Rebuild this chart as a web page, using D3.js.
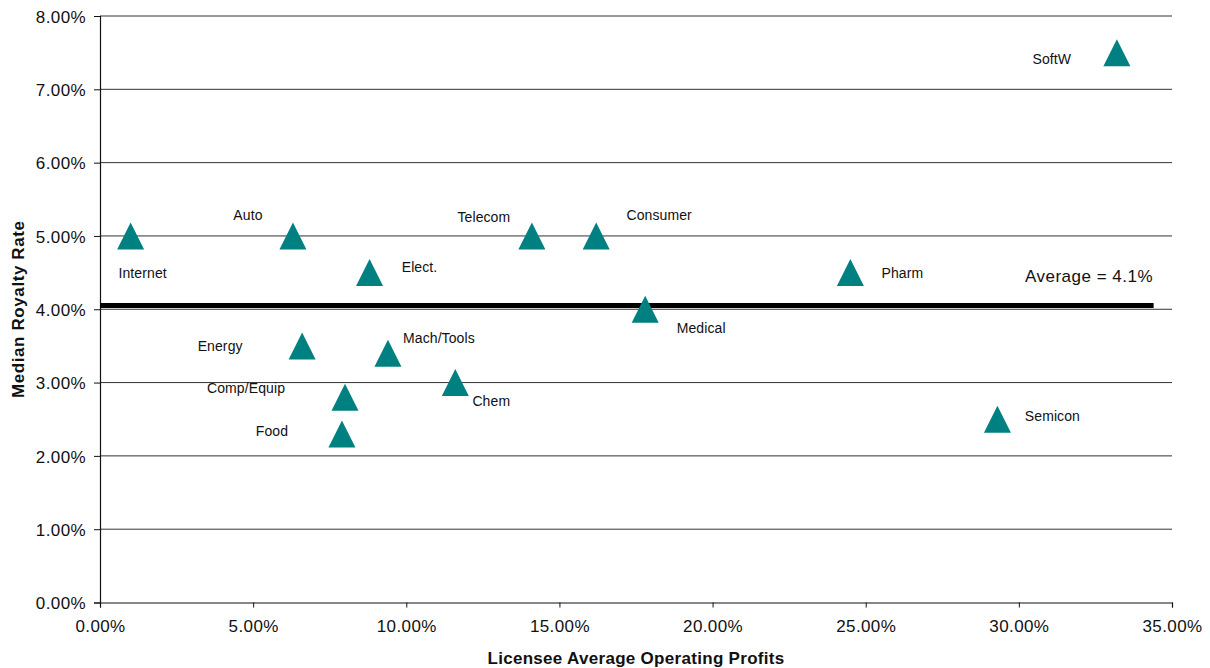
<!DOCTYPE html>
<html>
<head>
<meta charset="utf-8">
<script src="https://cdn.jsdelivr.net/npm/d3@7"></script>
<style>
  html, body { margin: 0; padding: 0; background: #fff; }
  svg text { font-family: "Liberation Sans", Arial, sans-serif; fill: #111; }
</style>
</head>
<body>
<svg id="chart" width="1210" height="668"></svg>
<script>
// Industry royalty data: operating profit (%) vs. median royalty rate (%)
const industries   = ["Internet", "Auto", "Elect.", "Telecom", "Consumer", "Medical", "Pharm", "SoftW",
                      "Energy", "Mach/Tools", "Comp/Equip", "Chem", "Food", "Semicon"];
const profits      = [1.0, 6.3, 8.8, 14.1, 16.2, 17.8, 24.5, 33.2, 6.6, 9.4, 8.0, 11.6, 7.9, 29.3];
const royaltyRates = [5.0, 5.0, 4.5, 5.0, 5.0, 4.0, 4.5, 7.5, 3.5, 3.4, 2.8, 3.0, 2.3, 2.5];

// Label placement relative to each marker (pixels)
const labelDx = [12, -45, 50, -48, 63, 56, 52, -65, -82, 51, -99, 36, -70, 55];
const labelDy = [37, -21, -6, -19, -21, 19, 0, 6, 0, -15, -9, 18, -3, -3];

const xTicks = [0, 5, 10, 15, 20, 25, 30, 35];
const yTicks = [0, 1, 2, 3, 4, 5, 6, 7, 8];

const averageRate = 4.05;
const averageLabel = "Average = 4.1%";
const averageSpan = [0, 34.4];

const svg = d3.select("#chart");
const plotLeft = 100, plotRight = 1172, plotTop = 16, plotBottom = 602.5;

const x = d3.scaleLinear().domain([0, 35]).range([plotLeft, plotRight]);
const y = d3.scaleLinear().domain([0, 8]).range([plotBottom, plotTop]);

const fmt = d => d.toFixed(2) + "%";

// Horizontal gridlines
svg.append("g")
  .selectAll("line")
  .data(yTicks.filter(v => v > 0))
  .join("line")
  .attr("x1", plotLeft).attr("x2", plotRight)
  .attr("y1", d => y(d)).attr("y2", d => y(d))
  .attr("stroke", "#333").attr("stroke-width", 1);

// Axes
const yAxis = svg.append("g")
  .attr("transform", `translate(${plotLeft},0)`)
  .call(d3.axisLeft(y).tickValues(yTicks).tickFormat(fmt).tickSize(6).tickPadding(8));
const xAxis = svg.append("g")
  .attr("transform", `translate(0,${plotBottom})`)
  .call(d3.axisBottom(x).tickValues(xTicks).tickFormat(fmt).tickSize(5).tickPadding(10));

[yAxis, xAxis].forEach(g => {
  g.select(".domain").attr("stroke", "#111").attr("stroke-width", 1.2);
  g.selectAll(".tick line").attr("stroke", "#111");
  g.selectAll(".tick text")
    .style("font-size", "17px")
    .style("letter-spacing", "0.4px")
    .attr("fill", "#111");
});
yAxis.selectAll(".tick text").attr("dy", "0.36em");
xAxis.selectAll(".tick text").attr("dy", "0.85em");

// Average line
svg.append("line")
  .attr("x1", x(averageSpan[0])).attr("x2", x(averageSpan[1]))
  .attr("y1", y(averageRate)).attr("y2", y(averageRate))
  .attr("stroke", "#000").attr("stroke-width", 5);

svg.append("text")
  .attr("x", x(30.2)).attr("y", y(4.45))
  .attr("dominant-baseline", "central")
  .style("font-size", "17px")
  .style("letter-spacing", "0.5px")
  .text(averageLabel);

// Triangle markers
const triangle = (cx, cy, s) => {
  const p = d3.path();
  p.moveTo(cx, cy - s / 2);
  p.lineTo(cx + s / 2, cy + s / 2);
  p.lineTo(cx - s / 2, cy + s / 2);
  p.closePath();
  return p.toString();
};

const points = industries.map((name, i) => ({
  name, px: profits[i], rate: royaltyRates[i], dx: labelDx[i], dy: labelDy[i]
}));

svg.append("g")
  .selectAll("path")
  .data(points)
  .join("path")
  .attr("d", d => triangle(x(d.px), y(d.rate), 27))
  .attr("fill", "#008080");

svg.append("g")
  .selectAll("text")
  .data(points)
  .join("text")
  .attr("x", d => x(d.px) + d.dx)
  .attr("y", d => y(d.rate) + d.dy)
  .attr("text-anchor", "middle")
  .attr("dominant-baseline", "central")
  .style("font-size", "14px")
  .style("letter-spacing", "0.1px")
  .text(d => d.name);

// Axis titles
svg.append("text")
  .attr("x", (plotLeft + plotRight) / 2).attr("y", 658)
  .attr("text-anchor", "middle")
  .attr("dominant-baseline", "central")
  .style("font-size", "17px")
  .style("font-weight", "bold")
  .style("letter-spacing", "0.3px")
  .text("Licensee Average Operating Profits");

svg.append("text")
  .attr("transform", `translate(18,${(plotTop + plotBottom) / 2}) rotate(-90)`)
  .attr("text-anchor", "middle")
  .attr("dominant-baseline", "central")
  .style("font-size", "17px")
  .style("font-weight", "bold")
  .style("letter-spacing", "0.6px")
  .text("Median Royalty Rate");
</script>
</body>
</html>
